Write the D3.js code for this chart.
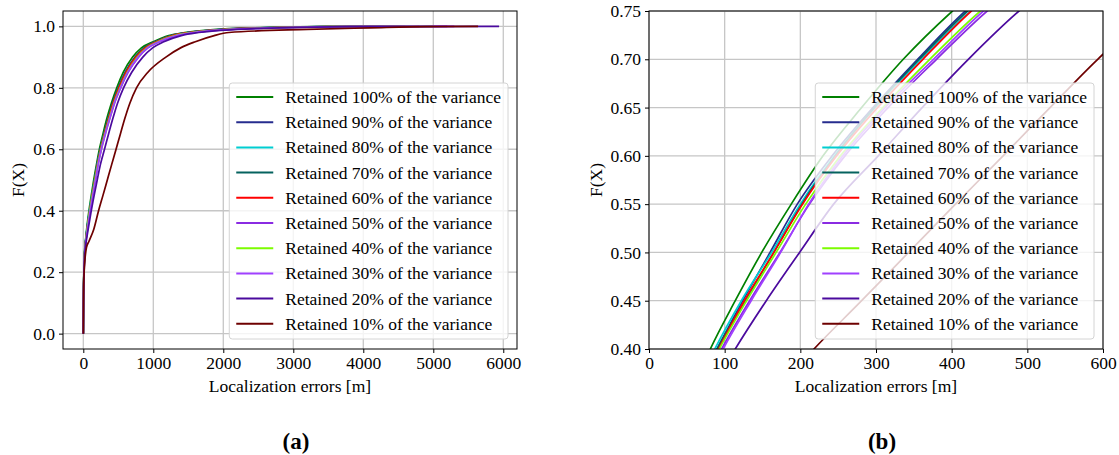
<!DOCTYPE html>
<html>
<head>
<meta charset="utf-8">
<script src="https://cdn.jsdelivr.net/npm/d3@7"></script>
<style>
  html, body { margin: 0; padding: 0; background: #fff; }
  svg { display: block; }
  text { font-family: "Liberation Serif", "Times New Roman", serif; fill: #000; }
</style>
</head>
<body>
<svg id="fig" width="1119" height="455"></svg>
<script>
// Cumulative probability levels shared by every series
const levels = [0, 0.10, 0.20, 0.28, 0.30, 0.34, 0.40, 0.45, 0.50, 0.55, 0.60, 0.65,
                0.70, 0.75, 0.80, 0.85, 0.90, 0.93, 0.95, 0.97, 0.98, 0.99, 0.995, 0.999, 1.0];

// Localization error [m] reached at each level, one array per retained-variance setting
const err100 = [0, 2, 8, 22, 30, 48, 81, 114, 149, 188, 230, 281, 336, 401, 478, 570, 705, 830, 1000, 1220, 1450, 1900, 2450, 3300, 4300];
const err90  = [0, 2, 9, 24, 33, 53, 90, 124, 160, 196, 242, 296, 355, 418, 500, 598, 740, 870, 1030, 1260, 1490, 1960, 2520, 3400, 4500];
const err80  = [0, 2, 9, 24, 32, 51, 87, 122, 162, 200, 245, 299, 359, 425, 508, 606, 748, 878, 1040, 1270, 1500, 2000, 2560, 3500, 4700];
const err70  = [0, 2, 9, 25, 33, 53, 90, 127, 165, 202, 246, 298, 357, 421, 504, 602, 744, 874, 1035, 1265, 1495, 1980, 2540, 3450, 4600];
const err60  = [0, 2, 9, 25, 34, 54, 92, 126, 165, 203, 248, 302, 362, 426, 510, 610, 752, 885, 1045, 1275, 1510, 2010, 2600, 3500, 4800];
const err50  = [0, 2, 10, 27, 36, 58, 96, 133, 173, 212, 259, 316, 380, 447, 535, 640, 790, 925, 1090, 1340, 1580, 2100, 2700, 3700, 5200];
const err40  = [0, 2, 10, 26, 35, 56, 93, 129, 168, 207, 253, 309, 371, 438, 525, 628, 772, 905, 1065, 1305, 1545, 2050, 2650, 3600, 5000];
const err30  = [0, 2, 10, 27, 37, 60, 98, 135, 174, 211, 256, 312, 376, 442, 530, 633, 782, 915, 1080, 1330, 1570, 2090, 2700, 3700, 5300];
const err20  = [0, 3, 11, 30, 42, 70, 114, 155, 199, 244, 303, 361, 422, 489, 575, 690, 850, 990, 1150, 1400, 1650, 2200, 2800, 3800, 5940];
const err10  = [0, 3, 12, 45, 80, 150, 218, 281, 343, 405, 468, 530, 593, 665, 760, 920, 1180, 1390, 1600, 1870, 2080, 3200, 4100, 4900, 5640];

const seriesLabels = [
  "Retained 100% of the variance", "Retained 90% of the variance", "Retained 80% of the variance",
  "Retained 70% of the variance", "Retained 60% of the variance", "Retained 50% of the variance",
  "Retained 40% of the variance", "Retained 30% of the variance", "Retained 20% of the variance",
  "Retained 10% of the variance"
];
const seriesColors = ["#008000", "#262c8e", "#00ced1", "#05625f", "#ff0000",
                      "#8a2be2", "#7cfc00", "#a040ff", "#4b0a9e", "#6e0000"];
const seriesErrors = [err100, err90, err80, err70, err60, err50, err40, err30, err20, err10];

// Tick values
const xTicksFull = [0, 1000, 2000, 3000, 4000, 5000, 6000];
const yTicksFull = [0.0, 0.2, 0.4, 0.6, 0.8, 1.0];
const xTicksZoom = [0, 100, 200, 300, 400, 500, 600];
const yTicksZoom = [0.40, 0.45, 0.50, 0.55, 0.60, 0.65, 0.70, 0.75];

const series = seriesLabels.map((label, i) => ({
  label,
  color: seriesColors[i],
  points: seriesErrors[i].map((e, k) => [e, levels[k]])
}));

const svg = d3.select("#fig");
const FONT = 17.5;

function drawPanel(cfg) {
  const { id, left, right, top, bottom, xDomain, yDomain, xTicks, yTicks, yFmt, labelX, caption, captionX } = cfg;
  const x = d3.scaleLinear().domain(xDomain).range([left, right]);
  const y = d3.scaleLinear().domain(yDomain).range([bottom, top]);
  const g = svg.append("g");

  g.append("clipPath").attr("id", "clip-" + id)
    .append("rect").attr("x", left).attr("y", top).attr("width", right - left).attr("height", bottom - top);

  // grid
  g.append("g").selectAll("line").data(xTicks).join("line")
    .attr("x1", d => x(d)).attr("x2", d => x(d)).attr("y1", top).attr("y2", bottom)
    .attr("stroke", "#c6c6c6").attr("stroke-width", 1.3);
  g.append("g").selectAll("line").data(yTicks).join("line")
    .attr("y1", d => y(d)).attr("y2", d => y(d)).attr("x1", left).attr("x2", right)
    .attr("stroke", "#c6c6c6").attr("stroke-width", 1.3);

  // curves
  const line = d3.line().x(d => x(d[0])).y(d => y(d[1])).curve(d3.curveMonotoneX);
  g.append("g").attr("clip-path", `url(#clip-${id})`)
    .selectAll("path").data(series).join("path")
    .attr("d", d => line(d.points))
    .attr("fill", "none").attr("stroke", d => d.color)
    .attr("stroke-width", 1.7).attr("stroke-linejoin", "round");

  // axes
  const ax = g.append("g").attr("transform", `translate(0,${bottom})`)
    .call(d3.axisBottom(x).tickValues(xTicks).tickFormat(d3.format("d")).tickSize(4).tickPadding(4));
  const ay = g.append("g").attr("transform", `translate(${left},0)`)
    .call(d3.axisLeft(y).tickValues(yTicks).tickFormat(d3.format(yFmt)).tickSize(4).tickPadding(4));
  [ax, ay].forEach(a => {
    a.select(".domain").remove();
    a.selectAll(".tick line").attr("stroke", "#000").attr("stroke-width", 1);
    a.selectAll(".tick text").style("font-family", '"Liberation Serif", serif').style("font-size", FONT + "px").attr("fill", "#000");
  });

  // frame
  g.append("rect").attr("x", left).attr("y", top).attr("width", right - left).attr("height", bottom - top)
    .attr("fill", "none").attr("stroke", "#000").attr("stroke-width", 1);

  // axis labels
  g.append("text").attr("x", (left + right) / 2).attr("y", bottom + 43)
    .attr("text-anchor", "middle").style("font-size", FONT + "px").text("Localization errors [m]");
  g.append("text").attr("transform", `translate(${labelX},${(top + bottom) / 2}) rotate(-90)`)
    .attr("text-anchor", "middle").style("font-size", FONT + "px").text("F(X)");

  // legend
  const rowH = 25.2;
  const lg = g.append("g");
  const box = lg.append("rect");
  const items = lg.selectAll("g").data(series).join("g");
  const texts = items.append("text").style("font-size", FONT + "px").text(d => d.label);
  let maxW = 0;
  texts.each(function () { maxW = Math.max(maxW, this.getComputedTextLength()); });
  const boxW = 56 + maxW + 7;
  const boxH = rowH * series.length + 4;
  const bx = right - 9 - boxW;
  const by = bottom - 10 - boxH;
  box.attr("x", bx).attr("y", by).attr("width", boxW).attr("height", boxH)
    .attr("rx", 3).attr("fill", "#fff").attr("fill-opacity", 0.8)
    .attr("stroke", "#d4d4d4").attr("stroke-width", 1);
  items.attr("transform", (d, i) => `translate(${bx},${by + 14 + i * rowH})`);
  items.insert("line", "text").attr("x1", 7).attr("x2", 44).attr("y1", 0).attr("y2", 0)
    .attr("stroke", d => d.color).attr("stroke-width", 2);
  texts.attr("x", 56).attr("y", 6);

  // caption
  g.append("text").attr("x", captionX).attr("y", 449).attr("text-anchor", "middle")
    .style("font-size", "23px").style("font-weight", "bold").text(caption);
}

drawPanel({
  id: "a", left: 63, right: 517, top: 11, bottom: 349,
  xDomain: [-290, 6196], yDomain: [-0.05, 1.05],
  xTicks: xTicksFull, yTicks: yTicksFull, yFmt: ".1f",
  labelX: 24, caption: "(a)", captionX: 296
});
drawPanel({
  id: "b", left: 649, right: 1103, top: 11, bottom: 349,
  xDomain: [0, 600], yDomain: [0.40, 0.75],
  xTicks: xTicksZoom, yTicks: yTicksZoom, yFmt: ".2f",
  labelX: 602, caption: "(b)", captionX: 882
});
</script>
</body>
</html>
